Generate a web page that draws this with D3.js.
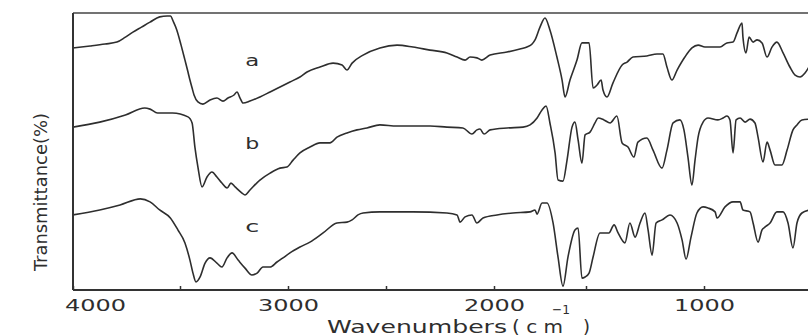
<!DOCTYPE html>
<html><head><meta charset="utf-8">
<script src="https://cdn.jsdelivr.net/npm/d3@7"></script>
<style>html,body{margin:0;padding:0;background:#fff;overflow:hidden}</style>
</head><body><svg id="chart" width="808" height="336"></svg>
<script>
// ---- data (wavenumber in cm-1, transmittance in arbitrary %, curves offset) ----
const seriesNames = ["a", "b", "c"];
const aWave = [4000,3920,3850,3795,3755,3720,3680,3640,3595,3560,3545,3530,3515,3495,3477,3463,3454,3444,3435,3417,3394,3361,3329,3301,3278,3250,3236,3222,3208,3176,3130,3083,3037,2990,2939,2903,2837,2770,2724,2699,2673,2617,2531,2449,2375,2296,2218,2171,2134,2111,2079,2056,2018,1929,1859,1821,1793,1777,1750,1723,1696,1658,1630,1614,1587,1549,1522,1487,1470,1453,1436,1428,1411,1386,1347,1326,1301,1242,1199,1174,1157,1136,1114,1081,1051,1025,996,932,903,877,860,839,835,822,809,792,775,754,733,712,691,665,636,614,593,572,551];
const aTrans = [87.4,88.1,88.8,89.5,91.3,93.1,94.9,96.7,98.6,98.9,98.9,96.7,93.9,88.4,83.0,78.7,75.8,72.9,70.4,67.9,67.1,68.6,69.3,68.2,69.3,70.4,71.5,69.3,67.5,68.2,69.7,71.5,73.3,75.1,76.9,78.7,80.5,81.9,81.2,79.4,81.9,84.8,87.4,88.4,87.7,86.6,85.6,84.1,83.0,84.1,83.8,83.0,84.8,85.9,87.0,87.7,88.8,90.3,94.9,98.2,93.9,84.1,75.8,69.7,75.8,83.0,89.2,89.2,72.9,74.0,75.8,72.2,69.7,74.7,81.2,82.3,84.1,84.5,85.2,85.2,80.5,75.8,79.4,84.1,87.4,88.4,87.7,87.7,89.2,89.5,92.8,96.4,91.3,85.6,91.3,89.5,90.3,89.2,84.1,87.7,89.5,85.6,80.5,77.6,76.9,78.3,81.2];
const bWave = [4000,3875,3755,3665,3640,3605,3535,3463,3444,3431,3417,3398,3375,3352,3329,3306,3282,3264,3245,3213,3199,3176,3130,3083,3037,3005,2974,2939,2888,2837,2786,2750,2699,2648,2597,2531,2449,2296,2218,2144,2102,2079,2065,2046,2018,1929,1842,1804,1766,1739,1717,1696,1668,1652,1625,1603,1576,1560,1543,1522,1505,1483,1462,1449,1424,1398,1369,1347,1322,1297,1280,1242,1216,1178,1157,1131,1102,1085,1068,1051,1038,1025,1004,983,941,919,903,890,877,864,847,826,805,784,771,750,733,720,699,670,648,623,606,585,551];
const bTrans = [58.8,60.6,63.2,65.7,65.3,63.9,63.9,62.5,60.3,51.6,44.4,37.2,40.8,42.6,40.8,38.6,36.8,38.6,37.2,35.0,34.3,36.1,39.7,42.2,44.0,44.4,46.9,49.5,51.6,53.1,53.1,55.2,56.7,57.8,58.5,59.6,59.2,59.2,58.8,58.5,56.3,57.8,58.1,56.3,57.8,58.5,58.8,59.6,62.1,65.0,66.4,60.3,49.5,39.7,39.3,46.9,58.8,60.6,54.2,45.8,56.0,57.0,60.3,62.1,61.4,60.3,62.8,53.1,51.6,48.0,53.4,54.9,50.5,44.0,50.5,60.3,61.4,57.8,48.0,37.9,46.9,55.2,60.6,62.1,61.4,62.1,62.8,61.4,49.5,61.4,62.1,60.6,61.7,60.3,55.2,46.2,53.4,50.5,45.1,45.1,50.5,57.8,59.6,61.4,61.7];
const cWave = [4000,3875,3780,3685,3640,3595,3545,3510,3477,3454,3440,3426,3407,3384,3361,3329,3306,3282,3259,3231,3199,3167,3143,3116,3083,3051,3023,2990,2939,2888,2821,2750,2699,2673,2643,2617,2531,2375,2218,2171,2157,2134,2102,2079,2051,1984,1897,1804,1777,1766,1739,1712,1679,1652,1625,1598,1560,1543,1522,1505,1487,1470,1441,1419,1403,1381,1364,1335,1314,1292,1271,1250,1237,1220,1203,1178,1144,1114,1093,1076,1055,1030,1004,983,953,945,911,877,847,835,805,792,771,754,742,720,691,665,644,623,606,585,551];
const cTrans = [27.1,28.9,30.7,32.9,31.8,28.9,26.0,21.7,17.0,10.8,6.1,2.9,4.7,9.7,11.6,9.7,8.3,11.6,13.4,10.8,7.9,5.4,6.1,8.3,8.3,10.1,11.6,13.4,15.5,17.3,20.6,24.2,24.5,25.3,27.1,27.8,28.2,28.2,27.8,27.1,24.5,26.4,27.1,24.2,26.0,27.1,27.8,28.2,28.9,27.4,31.4,31.4,24.2,11.9,1.4,11.9,21.7,22.4,4.3,4.7,6.1,11.9,20.6,20.6,20.6,23.5,20.6,17.0,24.2,19.1,24.2,27.8,21.7,12.6,24.2,25.3,27.1,24.2,18.1,11.2,19.1,27.8,30.0,29.6,28.2,26.0,30.0,31.8,31.8,28.9,28.2,24.2,17.3,21.7,22.7,24.2,28.2,28.2,24.2,15.2,24.2,27.8,28.9];
const xTicks = [4000, 3500, 3000, 2500, 2000, 1500, 1000, 500];
const xTickLabels = {4000: "4000", 3000: "3000", 2000: "2000", 1000: "1000"};
const labelWave = 3165;
const labelTrans = [81, 51, 21];

// ---- layout ----
const svg = d3.select("#chart");
const mLeft = 73, mTop = 13, mBottom = 290, mRight = 808;
const ink = "#2e2e2e";

const x = d3.scaleLinear()
  .domain([4000, 3500, 3000, 2500, 2000, 1500, 1000, 500])
  .range([73, 180, 288, 386, 494, 586, 704, 822]);
const y = d3.scaleLinear().domain([0, 100]).range([mBottom, mTop]);

svg.append("rect").attr("width", 808).attr("height", 336).attr("fill", "#fff");

svg.append("defs").append("clipPath").attr("id", "clip")
  .append("rect").attr("x", mLeft).attr("y", 0).attr("width", mRight - mLeft).attr("height", mBottom);

const series = [
  {name: seriesNames[0], w: aWave, t: aTrans},
  {name: seriesNames[1], w: bWave, t: bTrans},
  {name: seriesNames[2], w: cWave, t: cTrans}
];

const line = d3.line()
  .x(d => x(d[0])).y(d => y(d[1]))
  .curve(d3.curveMonotoneX);

svg.append("g").attr("clip-path", "url(#clip)")
  .selectAll("path").data(series).join("path")
  .attr("d", s => line(s.w.map((w, i) => [w, s.t[i]])))
  .attr("fill", "none").attr("stroke", ink)
  .attr("stroke-width", 1.6).attr("stroke-linejoin", "round");

// frame
svg.append("line").attr("x1", mLeft).attr("x2", mRight).attr("y1", mTop).attr("y2", mTop)
  .attr("stroke", "#444").attr("stroke-width", 1.5);
svg.append("line").attr("x1", mLeft).attr("x2", mLeft).attr("y1", mTop).attr("y2", mBottom)
  .attr("stroke", "#333").attr("stroke-width", 2);

const xAxis = d3.axisBottom(x).tickValues(xTicks)
  .tickSizeInner(-4).tickSizeOuter(0)
  .tickFormat(d => xTickLabels[d] || "");
const gx = svg.append("g").attr("transform", `translate(0,${mBottom})`).call(xAxis);
gx.select(".domain").attr("stroke", "#333").attr("stroke-width", 1.8)
  .attr("d", `M${mLeft},0H${mRight}`);
gx.selectAll(".tick line").attr("stroke", "#333").attr("stroke-width", 1.5);
gx.selectAll(".tick text")
  .attr("fill", ink).attr("font-family", "DejaVu Sans").attr("font-size", 16.5)
  .attr("y", 21).attr("dy", null)
  .attr("dx", d => d === 4000 ? 22 : 0)
  .attr("textLength", d => xTickLabels[d] ? 61 : null)
  .attr("lengthAdjust", "spacingAndGlyphs");

// series labels
svg.selectAll("text.lbl").data(series).join("text").attr("class", "lbl")
  .attr("x", x(labelWave)).attr("y", (s, i) => y(labelTrans[i]))
  .attr("text-anchor", "middle")
  .attr("font-family", "DejaVu Sans").attr("font-size", 15)
  .attr("textLength", 14).attr("lengthAdjust", "spacingAndGlyphs")
  .attr("fill", ink).text(s => s.name);

// axis titles
const tf = "DejaVu Sans";
svg.append("text").attr("x", 327).attr("y", 333)
  .attr("font-family", tf).attr("font-size", 18).attr("fill", ink)
  .attr("textLength", 180).attr("lengthAdjust", "spacingAndGlyphs")
  .text("Wavenumbers");
svg.append("text").attr("x", 512).attr("y", 333)
  .attr("font-family", tf).attr("font-size", 18).attr("fill", ink)
  .attr("textLength", 51).attr("lengthAdjust", "spacingAndGlyphs")
  .text("( c m");
svg.append("text").attr("x", 552).attr("y", 314)
  .attr("font-family", tf).attr("font-size", 13).attr("fill", ink)
  .attr("textLength", 18).attr("lengthAdjust", "spacingAndGlyphs")
  .text("−1");
svg.append("text").attr("x", 583).attr("y", 333)
  .attr("font-family", tf).attr("font-size", 18).attr("fill", ink)
  .text(")");

svg.append("text")
  .attr("transform", "translate(47,192) rotate(-90)")
  .attr("text-anchor", "middle")
  .attr("font-family", "DejaVu Sans Condensed, DejaVu Sans").attr("font-size", 18).attr("fill", ink)
  .attr("textLength", 158).attr("lengthAdjust", "spacingAndGlyphs")
  .text("Transmittance(%)");
</script></body></html>
